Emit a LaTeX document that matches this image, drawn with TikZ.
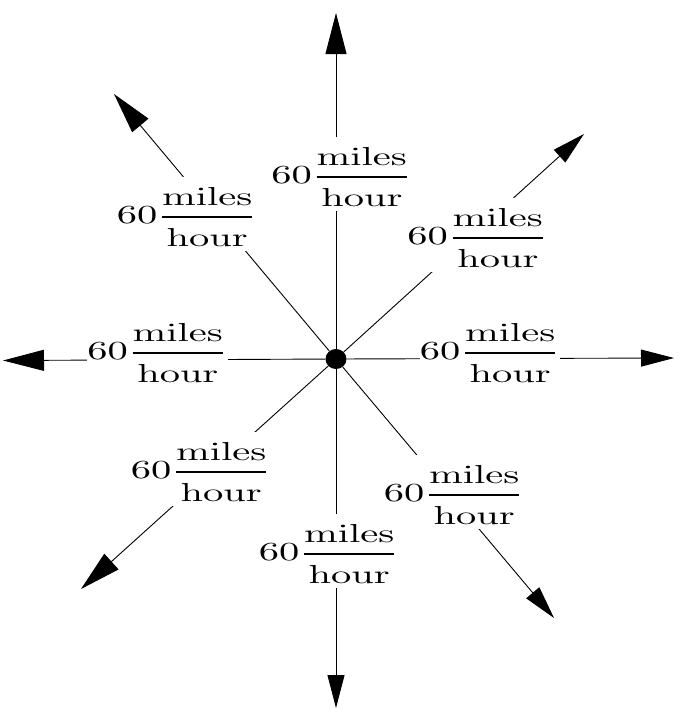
\documentclass[tikz,border=0pt]{standalone}
\usepackage{graphicx}
\usetikzlibrary{arrows.meta}
\tikzset{
  spd/.style={fill=white, inner xsep=0pt, inner ysep=5pt, text height=41.6pt, text depth=22.6pt, anchor=base},
  bigarr/.style={line width=0.9pt, -{Triangle[length=41pt,width=21pt]}},
  smallarr/.style={line width=0.9pt, -{Triangle[length=33pt,width=17pt]}},
  hub/.style={ellipse, fill=black, minimum width=21pt, minimum height=20pt, inner sep=0pt},
}
\usetikzlibrary{shapes.geometric}
\newcommand{\mphlabel}{\scalebox{4.05}[2.6]{$\displaystyle 60\frac{\mathrm{miles}}{\mathrm{hour}\vrule height9.81pt width0pt}$}}
\begin{document}
\begin{tikzpicture}[x=1pt,y=-1pt]
\useasboundingbox (0,0) rectangle (680,712);
\node[hub] (c) at (336,359) {};
\coordinate (tN) at (336,13);
\coordinate (tNW) at (114,94);
\coordinate (tW) at (3,360.5);
\coordinate (tSW) at (81,589);
\coordinate (tS) at (336,708);
\coordinate (tSE) at (554,618);
\coordinate (tE) at (674,358);
\coordinate (tNE) at (584,134);
\draw[bigarr] (c) -- (tN);
\draw[bigarr] (c) -- (tNW);
\draw[bigarr] (c) -- (tW);
\draw[bigarr] (c) -- (tSW);
\draw[smallarr] (c) -- (tS);
\draw[smallarr] (c) -- (tSE);
\draw[smallarr] (c) -- (tE);
\draw[smallarr] (c) -- (tNE);
\node[spd] (lN) at (341.6,183.5) {\mphlabel};
\node[spd] (lNW) at (187,223.5) {\mphlabel};
\node[spd] (lNE) at (477.6,244.5) {\mphlabel};
\node[spd] (lW) at (157.6,359.5) {\mphlabel};
\node[spd] (lE) at (490,359.5) {\mphlabel};
\node[spd] (lSW) at (201,478.5) {\mphlabel};
\node[spd] (lS) at (329,560.5) {\mphlabel};
\node[spd] (lSE) at (454,501.5) {\mphlabel};
\end{tikzpicture}
\end{document}
